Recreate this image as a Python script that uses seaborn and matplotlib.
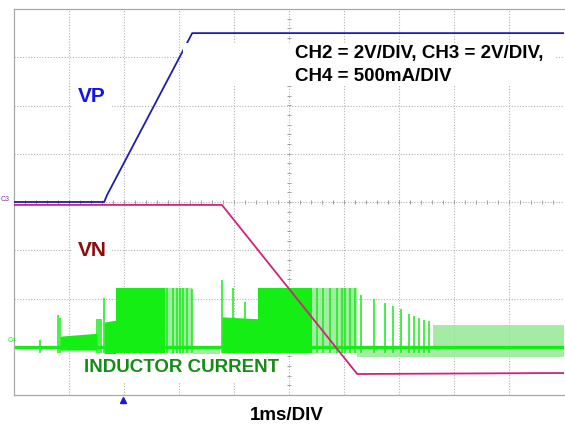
import matplotlib
matplotlib.use("Agg")
import matplotlib.pyplot as plt
import numpy as np
import pandas as pd
import seaborn as sns
from matplotlib.patches import Rectangle

# ── Data (in scope divisions: x = 1 ms/div, y = divisions from bottom) ──
vp_t = [0.0, 1.64, 1.69, 3.24, 10.0]
vp_v = [4.0, 4.0, 4.14, 7.50, 7.50]

vn_t = [0.0, 3.78, 6.24, 10.0]
vn_v = [3.94, 3.94, 0.435, 0.456]

il_base = 0.99
# dense switching envelopes: start, end, top at start, top at end, bottom
band_x0 = [0.84, 1.64, 1.85, 3.78, 4.44]
band_x1 = [1.51, 1.85, 2.75, 4.44, 5.42]
band_top0 = [1.22, 1.51, 2.22, 1.62, 2.22]
band_top1 = [1.28, 1.55, 2.22, 1.58, 2.22]
band_bot = [0.93, 0.83, 0.87, 0.87, 0.87]
# partly switching regions (lighter)
soft_x0 = [2.75, 5.42, 3.25, 6.24, 7.62]
soft_x1 = [3.24, 6.24, 3.75, 10.0, 10.0]
soft_top = [2.22, 2.22, 1.00, 1.00, 1.45]
soft_bot = [0.87, 0.87, 0.79, 0.79, 0.99]
# isolated current spikes
spike_t = [0.47, 0.80, 0.84, 1.51, 1.55, 1.58, 1.64, 2.78, 2.89, 2.96, 3.02,
           3.07, 3.15, 3.24, 3.78, 3.98, 4.20, 5.51, 5.62, 5.75, 5.87, 5.96,
           6.02, 6.11, 6.20, 6.31, 6.55, 6.75, 6.89, 7.04, 7.18, 7.27, 7.36,
           7.45, 7.55]
spike_top = [1.14, 1.66, 1.60, 1.58, 1.58, 1.58, 2.01, 2.22, 2.22, 2.22, 2.22,
             2.22, 2.22, 2.20, 2.38, 2.22, 1.93, 2.22, 2.22, 2.22, 2.22, 2.22,
             2.22, 2.22, 2.22, 2.07, 1.99, 1.91, 1.84, 1.78, 1.68, 1.64, 1.60,
             1.55, 1.53]

BLUE = "#1e1eaa"
MAGENTA = "#d0237c"
GREEN = "#14ee14"
SOFT_GREEN = "#8ee88e"

sns.set_style("white")
plt.rcParams["font.family"] = ["Liberation Sans", "DejaVu Sans"]
plt.rcParams["text.color"] = "black"

fig = plt.figure(figsize=(5.65, 4.24), dpi=100)
ax = fig.add_axes([14 / 565, 29 / 424, 550 / 565, 386 / 424])
ax.set_xlim(0, 10)
ax.set_ylim(0, 8)
ax.set_xticks([])
ax.set_yticks([])
for side in ["left", "top", "bottom"]:
    ax.spines[side].set_color("#a8a8a8")
    ax.spines[side].set_linewidth(0.9)
ax.spines["right"].set_visible(False)

# graticule
grid_kw = dict(color="#b4b4b4", lw=0.8, ls=(0, (1, 1.5)), zorder=0)
for gx in range(1, 10):
    ax.axvline(gx, **grid_kw)
for gy in range(1, 8):
    ax.axhline(gy, **grid_kw)
minor_x = np.arange(0.2, 10, 0.2)
minor_y = np.arange(0.2, 8, 0.2)
ax.vlines(minor_x, 4 - 0.05, 4 + 0.05, color="#a0a0a0", lw=0.7, zorder=0)
ax.hlines(minor_y, 5 - 0.04, 5 + 0.04, color="#a0a0a0", lw=0.7, zorder=0)

# inductor current (CH4)
ax.plot([0, 10], [il_base, il_base], color=GREEN, lw=2.4, zorder=2)
for x0, x1, t0, t1, b in zip(band_x0, band_x1, band_top0, band_top1, band_bot):
    ax.fill_between([x0, x1], [b, b], [t0, t1], color=GREEN, lw=0, zorder=2)
for x0, x1, t, b in zip(soft_x0, soft_x1, soft_top, soft_bot):
    ax.fill_between([x0, x1], [b, b], [t, t], color=SOFT_GREEN, alpha=0.8,
                    lw=0, zorder=1.5)
ax.vlines(spike_t, il_base - 0.12, spike_top, color=GREEN, lw=1.1, zorder=2)

# voltage traces
traces = pd.concat([
    pd.DataFrame({"t": vp_t, "v": vp_v, "ch": "VP"}),
    pd.DataFrame({"t": vn_t, "v": vn_v, "ch": "VN"}),
])
sns.lineplot(data=traces, x="t", y="v", hue="ch", sort=False, estimator=None,
             palette={"VP": BLUE, "VN": MAGENTA}, linewidth=1.3, legend=False,
             ax=ax, zorder=3)

# label boxes (white backing as in the scope capture)
ax.add_patch(Rectangle((3.07, 6.42), 6.78, 0.88, facecolor="white",
                       edgecolor="none", zorder=4))
ax.text(5.11, 7.07, "CH2 = 2V/DIV, CH3 = 2V/DIV,", fontsize=13.5,
        fontweight="bold", color="black", va="center", ha="left", zorder=5)
ax.text(5.11, 6.61, "CH4 = 500mA/DIV", fontsize=13.5, fontweight="bold",
        color="black", va="center", ha="left", zorder=5)

box = dict(facecolor="white", edgecolor="none", pad=4)
ax.text(1.42, 6.18, "VP", color="#1414e6", fontsize=15, fontweight="bold",
        ha="center", va="center", bbox=box, zorder=5)
ax.text(1.42, 3.0, "VN", color="#8c0c0c", fontsize=15, fontweight="bold",
        ha="center", va="center", bbox=box, zorder=5)
ax.text(1.27, 0.56, "INDUCTOR CURRENT", color="#138c13", fontsize=13.5,
        fontweight="bold", ha="left", va="center", bbox=box, zorder=5)

# channel markers and trigger
ax.text(-0.24, 4.05, "C3", color="#7a3aa0", fontsize=5, ha="left",
        va="center", clip_on=False)
ax.text(-0.12, 1.12, "C4", color=GREEN, fontsize=5, ha="left", va="center",
        clip_on=False)
ax.plot([1.98], [-0.1], marker="^", color="#1a1acc", markersize=5,
        clip_on=False)

fig.text(0.508, 0.021, "1ms/DIV", fontsize=13.5, fontweight="bold",
         color="black", ha="center", va="center")

fig.savefig("out.png", dpi=100, facecolor="white")
